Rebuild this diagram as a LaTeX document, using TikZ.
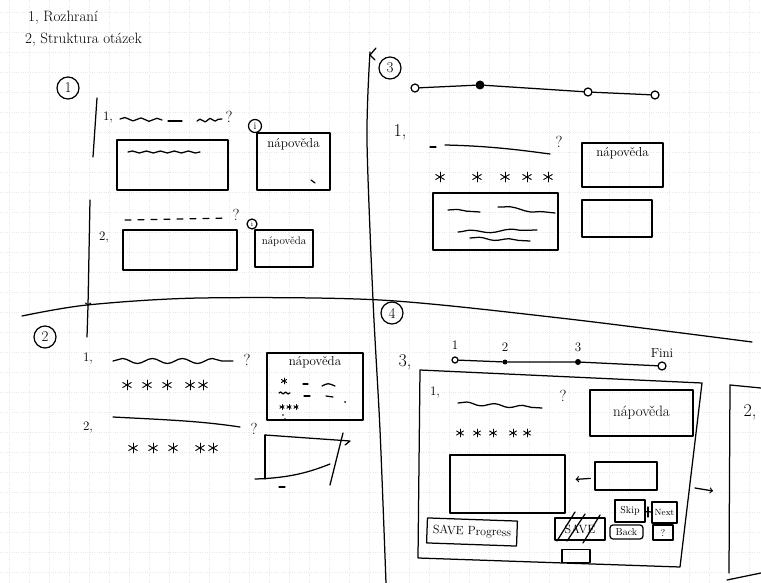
\documentclass[tikz,border=0pt]{standalone}
\usetikzlibrary{positioning,decorations.pathmorphing}

\tikzset{
  pen/.style={line width=1.25pt, line cap=round, line join=round},
  wave/.style={pen, decorate, decoration={snake, amplitude=1.6pt, segment length=16pt}},
  hand/.style={font=\fontsize{13}{15}\selectfont, inner sep=1pt},
  handsm/.style={font=\fontsize{10}{12}\selectfont, inner sep=1pt},
  big/.style={font=\fontsize{18}{20}\selectfont, inner sep=1pt},
  quest/.style={font=\fontsize{16}{18}\selectfont, inner sep=1pt},
  num/.style={circle, draw, pen, minimum size=22pt, inner sep=0pt, font=\fontsize{15}{17}\selectfont},
  box/.style={draw, pen, inner sep=0pt},
  hole/.style={circle, draw, pen, fill=white, minimum size=8pt, inner sep=0pt},
  blob/.style={circle, fill, minimum size=7pt, inner sep=0pt},
  gridline/.style={gray!18, line width=0.3pt, dotted},
  asterisk/.pic={\foreach \a in {90,30,150} \draw[pen, line width=0.9pt] (\a:5) -- (\a+180:5);},
}

\begin{document}
\begin{tikzpicture}[x=1pt, y=-1pt, >=to]
  \fill[white] (0,0) rectangle (761,583);
  \useasboundingbox (0,0) rectangle (761,583);
  % squared paper
  \foreach \gx in {9,29,...,761} \draw[gridline] (\gx,0) -- (\gx,583);
  \foreach \gy in {12,32,...,583} \draw[gridline] (0,\gy) -- (761,\gy);

  % headings
  \node[hand, font=\fontsize{15}{17}\selectfont, anchor=west] (t1) at (27,18) {1, Rozhraní};
  \node[hand, font=\fontsize{15}{17}\selectfont, anchor=west] (t2) at (24,40) {2, Struktura otázek};

  % dividers
  \draw[pen] plot[smooth] coordinates {(370,52) (367,140) (373,300) (380,430) (386,583)};
  \draw[pen] (376,48) -- (370,55) -- (375,60);
  \draw[pen] plot[smooth] coordinates {(22,316) (87,305) (200,298) (380,300) (560,318) (752,342)};

  % --- 1 ---
  \node[num] (s1) at (68,88) {1};
  \coordinate (f1) at (97,98);
  \coordinate (f2) at (93,157);
  \coordinate (f3) at (90,200);
  \coordinate (f4) at (88,306);
  \coordinate (f5) at (87,337);
  \draw[pen] (f1) -- (f2);
  \draw[pen,->] (f3) -- (f4);
  \draw[pen] (f4) -- (f5);

  \node[hand] (q11) at (108,117) {1,};
  \draw[wave] (120,119) -- (162,120);
  \draw[pen] (168,121) -- (182,121);
  \draw[wave, decoration={segment length=10pt}] (197,121) -- (222,119);
  \node[quest] (qm11) at (229,117) {?};
  \node[box, minimum width=111pt, minimum height=50pt] (a11) at (172.5,165) {};
  \draw[wave, decoration={amplitude=1pt, segment length=14pt}] (128,152) -- (200,152);
  \node[hole, minimum size=13pt, handsm] (i11) at (255,126) {i};
  \node[box, minimum width=73pt, minimum height=57pt] (h11) at (293.5,161.5) {};
  \node[hand, below=5pt of h11.north] (h11t) {nápověda};
  \draw[pen] (311,180) -- (315,183);

  \node[hand] (q12) at (104,237) {2,};
  \draw[pen, dash pattern=on 6pt off 7pt] (125,220) -- (228,218);
  \node[quest] (qm12) at (236,215) {?};
  \node[box, minimum width=114pt, minimum height=40pt] (a12) at (180,250) {};
  \node[hole, minimum size=10pt, font=\fontsize{7}{8}\selectfont] (i12) at (252,224) {i};
  \node[box, minimum width=58pt, minimum height=37pt] (h12) at (284,248.5) {};
  \node[handsm, font=\fontsize{11}{12}\selectfont, below=6pt of h12.north] (h12t) {nápověda};

  % --- 3 ---
  \node[num] (s3) at (390,68) {3};
  \node[hole] (p31) at (415,88) {};
  \node[blob, minimum size=9pt] (p32) at (480,85) {};
  \node[hole] (p33) at (588,92) {};
  \node[hole] (p34) at (655,95) {};
  \draw[pen] (p31) -- (p32) -- (p33) -- (p34);
  \node[big] (q31) at (400,132) {1,};
  \draw[pen] (430,147) -- (436,147);
  \draw[pen] (445,145) .. controls (490,146) and (520,150) .. (550,154);
  \node[quest] (qm31) at (559,142) {?};
  \foreach \sx in {440,477,505,527,548} \pic at (\sx,177) {asterisk};
  \node[box, minimum width=81pt, minimum height=44pt] (h31) at (622.5,165) {};
  \node[hand, below=4pt of h31.north] (h31t) {nápověda};
  \node[box, minimum width=125pt, minimum height=57pt] (a31) at (495.5,221.5) {};
  \draw[wave, decoration={amplitude=1.2pt, segment length=30pt}] (448,210) -- (480,212);
  \draw[wave, decoration={amplitude=1.5pt, segment length=40pt}] (498,207) -- (555,213);
  \draw[wave, decoration={amplitude=1.5pt, segment length=40pt}] (458,232) -- (537,230);
  \draw[wave, decoration={amplitude=1.2pt, segment length=30pt}] (470,238) -- (530,241);
  \node[box, minimum width=70pt, minimum height=37pt] (b31) at (617,218.5) {};

  % --- 2 ---
  \node[num] (s2) at (45,337) {2};
  \node[hand] (q21) at (88,358) {1,};
  \draw[wave, decoration={amplitude=2.5pt, segment length=30pt}] (113,361) -- (233,361);
  \node[quest] (qm21) at (247,360) {?};
  \foreach \sx in {127,147,167,190,203} \pic at (\sx,385) {asterisk};
  \node[box, minimum width=96pt, minimum height=67pt] (h21) at (315,386.5) {};
  \node[hand, below=3pt of h21.north] (h21t) {nápověda};
  \pic[scale=0.6] at (284,381) {asterisk};
  \draw[pen] (303,384) -- (308,384);
  \draw[pen] (322,386) .. controls (328,383) .. (335,386);
  \draw[wave, decoration={amplitude=1pt, segment length=5pt}] (279,393) -- (290,393);
  \draw[pen] (304,396) -- (310,396);
  \draw[pen] (326,396) -- (333,397);
  \fill (345,402) circle (1pt);
  \foreach \sx in {282,289,296} \pic[scale=0.5] at (\sx,407) {asterisk};
  \fill (283,415) circle (0.8pt) (285,419) circle (0.8pt);

  \node[hand] (q22) at (88,427) {2,};
  \draw[pen] (113,417) .. controls (170,420) and (200,421) .. (240,427);
  \node[quest] (qm22) at (254,429) {?};
  \foreach \sx in {133,153,173,200,213} \pic at (\sx,448) {asterisk};
  \draw[pen] (265,435) -- (350,441) -- (345,445);
  \draw[pen] (265,435) -- (265,479);
  \draw[pen] (255,479) .. controls (290,478) and (310,472) .. (330,464);
  \draw[pen] (343,433) -- (330,485);
  \draw[pen] (279,487) -- (285,487);

  % --- 4 ---
  \node[num] (s4) at (392,313) {4};
  \node[big] (q43) at (405,362) {3,};
  \node[hole, minimum size=6pt] (p41) at (455,360) {};
  \node[blob, minimum size=5pt] (p42) at (505,362) {};
  \node[blob, minimum size=6pt] (p43) at (578,362) {};
  \node[hole] (p44) at (662,366) {};
  \node[hand, above=6pt of p41] (l41) {1};
  \node[hand, above=7pt of p42] (l42) {2};
  \node[hand, above=6pt of p43] (l43) {3};
  \node[hand, above=3pt of p44] (l44) {Fini};
  \draw[pen] (p41) -- (p42) -- (p43) -- (p44);

  \draw[pen] (420,370) -- (702,383) -- (680,567) -- (418,558) -- cycle;
  \node[hand] (q41) at (435,392) {1,};
  \draw[wave, decoration={amplitude=1.5pt, segment length=28pt}] (458,403) -- (542,408);
  \node[quest] (qm41) at (563,396) {?};
  \foreach \sx in {460,477,493,513,527} \pic[scale=0.8] at (\sx,433) {asterisk};
  \node[box, minimum width=103pt, minimum height=46pt] (h41) at (641.5,413) {};
  \node[hand, font=\fontsize{15}{17}\selectfont] (h41t) at (h41) {nápověda};
  \node[box, minimum width=115pt, minimum height=58pt] (a41) at (507.5,484) {};
  \node[box, minimum width=62pt, minimum height=28pt] (b41) at (626,476) {};
  \draw[pen,->,shorten <=4pt,shorten >=10pt] (b41) -- (a41);
  \coordinate (c1r) at (695,488);
  \coordinate (c2l) at (713,491);
  \draw[pen,->] (c1r) -- (c2l);

  \node[box, handsm, font=\fontsize{12}{14}\selectfont, minimum width=90pt, minimum height=25pt, rotate=-2] (sv) at (472,532) {SAVE Progress};
  \node[box, handsm, font=\fontsize{12}{14}\selectfont, minimum width=50pt, minimum height=22pt] (sx) at (580,529) {SAVE};
  \draw[pen] (557,541) -- (575,512) (567,541) -- (585,514) (583,543) -- (600,515);
  \node[box, minimum width=28pt, minimum height=13pt] (sxb) at (576,556) {};
  \node[box, handsm, minimum width=30pt, minimum height=22pt] (sk) at (630,511) {Skip};
  \node[box, handsm, font=\fontsize{9}{10}\selectfont, minimum width=25pt, minimum height=21pt] (nx) at (664.5,512.5) {Next};
  \draw[pen] (sk) -- (nx);
  \draw[pen] (648,507) -- (648,517);
  \node[box, rounded corners=3pt, handsm, minimum width=33pt, minimum height=14pt] (bk) at (626.5,532) {Back};
  \node[box, handsm, minimum width=20pt, minimum height=15pt] (qb) at (663,532.5) {?};

  \draw[pen] (761,388) -- (730,385) -- (729,573);
  \draw[pen] (727,580) -- (761,573);
  \node[big] (q42) at (750,412) {2,};
\end{tikzpicture}
\end{document}
